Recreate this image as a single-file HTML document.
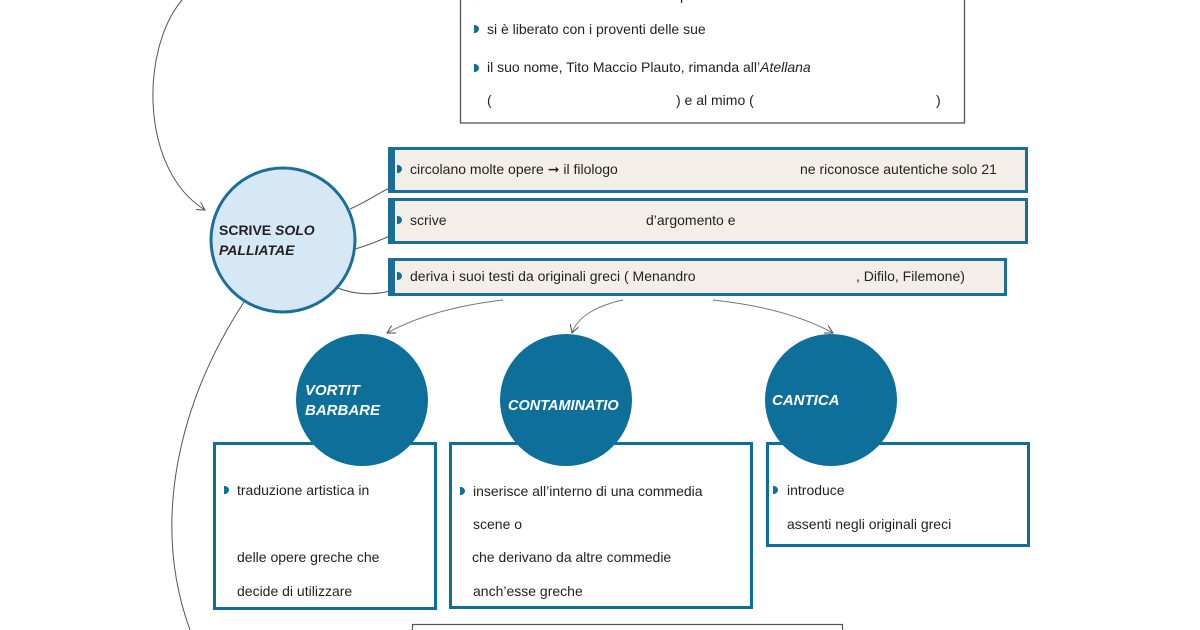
<!DOCTYPE html>
<html><head><meta charset="utf-8"><style>
html,body{margin:0;padding:0;width:1200px;height:630px;overflow:hidden;background:#fff}
svg{display:block}
text{font-family:"Liberation Sans",sans-serif;font-size:14px;fill:#231f20}
.w{fill:#fff;font-weight:bold;font-style:italic;font-size:15px}
</style></head><body>
<svg width="1200" height="630" viewBox="0 0 1200 630" xmlns="http://www.w3.org/2000/svg">
<defs>
<marker id="a" viewBox="0 0 10 10" refX="9" refY="5" markerWidth="9" markerHeight="9" orient="auto" markerUnits="userSpaceOnUse"><path d="M0,0 L9,5 L0,10" fill="none" stroke="#555" stroke-width="1.2"/></marker>
<symbol id="b" viewBox="0 0 6 10"><path d="M0,0 A6,5 0 0 1 0,10 Z" fill="#0e6f9a"/></symbol>
</defs>
<!-- curves -->
<path d="M182,0 C140,50 140,170 205,210" fill="none" stroke="#555" stroke-width="1" marker-end="url(#a)"/>
<path d="M244,302 C180,400 150,520 190,630" fill="none" stroke="#555" stroke-width="1"/>
<path d="M503,300 C460,305 420,315 387,333" fill="none" stroke="#777" stroke-width="1" marker-end="url(#a)"/>
<path d="M623,300 C600,305 578,315 572,333" fill="none" stroke="#777" stroke-width="1" marker-end="url(#a)"/>
<path d="M713,300 C760,305 800,315 833,333" fill="none" stroke="#777" stroke-width="1" marker-end="url(#a)"/>
<!-- connectors -->
<path d="M350,209 C370,200 380,192 390,188" fill="none" stroke="#555" stroke-width="1"/>
<path d="M355,249 C370,245 380,240 390,236" fill="none" stroke="#555" stroke-width="1"/>
<path d="M338,288 C355,295 375,295 390,291" fill="none" stroke="#555" stroke-width="1"/>
<!-- top box -->
<rect x="460.5" y="-10" width="504" height="133" fill="#fff" stroke="#555" stroke-width="1.3"/>
<use href="#b" x="474" y="-9" width="5" height="10"/><text x="487" y="0">ha una</text><text x="680" y="0">per debiti</text>
<use href="#b" x="474" y="24" width="5" height="10"/><text x="487" y="34">si è liberato con i proventi delle sue</text>
<use href="#b" x="474" y="63" width="5" height="10"/><text x="487" y="72">il suo nome, Tito Maccio Plauto, rimanda all’<tspan font-style="italic">Atellana</tspan></text>
<text x="487" y="105">(</text><text x="676" y="105">) e al mimo (</text><text x="936" y="105">)</text>
<!-- central circle -->
<circle cx="283" cy="240" r="72" fill="#d6e8f5" stroke="#1b6f98" stroke-width="3"/>
<text x="219" y="235" font-weight="bold" style="font-size:14px">SCRIVE <tspan font-style="italic">SOLO</tspan></text>
<text x="219" y="255" font-weight="bold" font-style="italic">PALLIATAE</text>
<!-- right boxes -->
<rect x="389.5" y="148.5" width="637" height="43" fill="#f3efe8" stroke="#1a6e97" stroke-width="3"/><rect x="388" y="147" width="7" height="46" fill="#1a6e97"/>
<use href="#b" x="397" y="164" width="5" height="10"/><text x="410" y="174">circolano molte opere ➞ il filologo</text><text x="800" y="174">ne riconosce autentiche solo 21</text>
<rect x="389.5" y="199.5" width="637" height="43" fill="#f3efe8" stroke="#1a6e97" stroke-width="3"/><rect x="388" y="198" width="7" height="46" fill="#1a6e97"/>
<use href="#b" x="397" y="215" width="5" height="10"/><text x="410" y="225">scrive</text><text x="646" y="225">d’argomento e</text>
<rect x="389.5" y="259.5" width="616" height="35" fill="#f3efe8" stroke="#1a6e97" stroke-width="3"/><rect x="388" y="258" width="7" height="38" fill="#1a6e97"/>
<use href="#b" x="397" y="271" width="5" height="10"/><text x="410" y="281">deriva i suoi testi da originali greci (   Menandro</text><text x="856" y="281">, Difilo, Filemone)</text>
<!-- bottom boxes -->
<rect x="214.5" y="443.5" width="221" height="165" fill="#fff" stroke="#0e6f9a" stroke-width="3"/>
<rect x="450.5" y="443.5" width="301" height="164" fill="#fff" stroke="#0e6f9a" stroke-width="3"/>
<rect x="767.5" y="443.5" width="261" height="102" fill="#fff" stroke="#0e6f9a" stroke-width="3"/>
<rect x="412.5" y="624.5" width="430" height="20" fill="#fff" stroke="#555" stroke-width="1.2"/>
<circle cx="362" cy="400" r="66" fill="#0e6f9a"/>
<circle cx="566" cy="400" r="66" fill="#0e6f9a"/>
<circle cx="831" cy="400" r="66" fill="#0e6f9a"/>
<text class="w" x="305" y="395">VORTIT</text><text class="w" x="305" y="415">BARBARE</text>
<text class="w" x="508" y="410" style="font-size:14.5px">CONTAMINATIO</text>
<text class="w" x="772" y="405">CANTICA</text>
<use href="#b" x="224" y="485" width="5" height="10"/><text x="237" y="495">traduzione artistica in</text>
<text x="237" y="562">delle opere greche che</text><text x="237" y="596">decide di utilizzare</text>
<use href="#b" x="460" y="486" width="5" height="10"/><text x="473" y="496">inserisce all’interno di una commedia</text>
<text x="473" y="529">scene o</text><text x="472" y="562">che derivano da altre  commedie</text><text x="473" y="596">anch’esse greche</text>
<use href="#b" x="773" y="485" width="5" height="10"/><text x="787" y="495">introduce</text><text x="787" y="529">assenti negli originali greci</text>
</svg>
</body></html>
